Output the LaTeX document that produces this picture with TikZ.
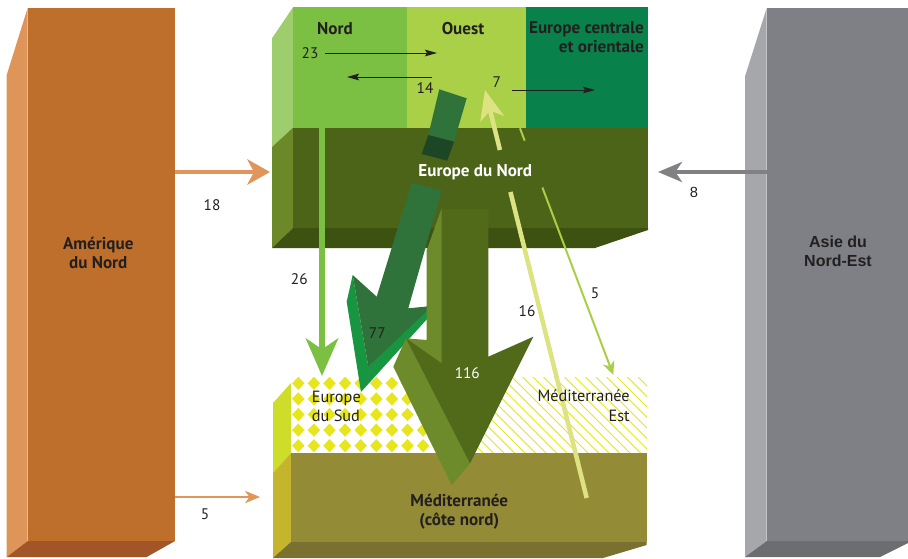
\documentclass[tikz,border=0pt]{standalone}
\usepackage{fontspec}
\setmainfont{PT Sans}
\newfontfamily\helv{Liberation Sans}
\usetikzlibrary{arrows.meta,calc}

\definecolor{ink}{HTML}{231F20}
\definecolor{amer}{HTML}{BF6F2C}
\definecolor{amerside}{HTML}{DE9559}
\definecolor{amerbot}{HTML}{A25627}
\definecolor{asie}{HTML}{7F8085}
\definecolor{asieside}{HTML}{A6A7AB}
\definecolor{asiebot}{HTML}{6C6D71}
\definecolor{nordg}{HTML}{7BBF43}
\definecolor{ouestg}{HTML}{A9D047}
\definecolor{ceog}{HTML}{08814A}
\definecolor{topside}{HTML}{9DCD6C}
\definecolor{eun}{HTML}{4C6418}
\definecolor{eunside}{HTML}{6C892A}
\definecolor{eunbot}{HTML}{3D5211}
\definecolor{med}{HTML}{948B37}
\definecolor{medside}{HTML}{C4B52C}
\definecolor{medbot}{HTML}{7A702F}
\definecolor{sudside}{HTML}{CEDC2A}
\definecolor{diam}{HTML}{E7E51B}
\definecolor{flowA}{HTML}{2F723A}
\definecolor{flowAdk}{HTML}{1D4627}
\definecolor{flowAbr}{HTML}{179540}
\definecolor{flowB}{HTML}{506A1A}
\definecolor{flowBlt}{HTML}{6D8B2B}
\definecolor{pale}{HTML}{DDE283}
\definecolor{lime}{HTML}{AACF47}
\definecolor{orng}{HTML}{E0965A}
\definecolor{gry}{HTML}{808085}

\begin{document}
\begin{tikzpicture}[x=0.75pt,y=-0.75pt,
  lbl/.style={font=\fontsize{12.8}{14.3}\selectfont\bfseries,text=ink,inner sep=0pt,align=center},
  reg/.style={font=\fontsize{12.2}{14.3}\selectfont,text=ink,inner sep=0pt},
  num/.style={font=\fontsize{11.5}{13}\selectfont,text=ink,inner sep=0pt,anchor=base}]
\useasboundingbox (0,0) rectangle (908,558);

% Amerique du Nord
\fill[amerside] (27.7,7.8) -- (6.7,75) -- (6.7,557) -- (27.7,541) -- cycle;
\fill[amer] (27.7,7.8) rectangle (175,541);
\fill[amerbot] (27.7,541) -- (175,541) -- (146.7,557) -- (6.7,557) -- cycle;
\node[lbl] (amerique) at (98.3,253) {Amérique\\du Nord};

% Asie du Nord-Est
\fill[asieside] (766.7,8) -- (745,76.5) -- (745,557) -- (766.7,541) -- cycle;
\fill[asie] (766.7,8) rectangle (908,541);
\fill[asiebot] (766.7,541) -- (908,541) -- (908,543) -- (880,557) -- (745,557) -- cycle;
\node[lbl,font=\fontsize{12}{14}\selectfont\helv\bfseries] (asie) at (838,251.5) {Asie du\\Nord-Est};

% Europe du Nord, top tier
\fill[topside] (293,7.3) -- (272,38.3) -- (272,147) -- (293,127.7) -- cycle;
\fill[nordg] (293,7.3) rectangle (406.7,127.7);
\fill[ouestg] (406.7,7.3) rectangle (526,127.7);
\fill[ceog] (526,7.3) rectangle (648,127.7);
\node[lbl,anchor=base] (nord) at (335,34.3) {Nord};
\node[lbl,anchor=base] (ouest) at (463,34.3) {Ouest};
\node[lbl,align=right,anchor=north east] (ceo) at (644,21) {Europe centrale\\et orientale};

% Europe du Nord, block
\fill[eunside] (293,127.7) -- (272,147) -- (272,248) -- (293,228) -- cycle;
\fill[eun] (293,127.7) rectangle (648,228);
\fill[eunbot] (293,228) -- (648,228) -- (648,230) -- (595,248) -- (272,248) -- cycle;

% Europe du Sud and Mediterranee Est
\fill[sudside] (291,383) -- (273,403) -- (273,473) -- (291,453) -- cycle;
\begin{scope}
  \clip (291,377) rectangle (445,453);
  \foreach \i in {0,...,10}
    \foreach \j in {0,...,5}
      \fill[diam] (298.3+15.6*\i,376.7+15.6*\j) -- ++(6.2,6.6) -- ++(-6.2,6.6) -- ++(-6.2,-6.6) -- cycle;
\end{scope}
\begin{scope}
  \clip (445,377) rectangle (647,453);
  \foreach \k in {0,...,28}
    \draw[diam,line width=0.6pt] (365+10.5*\k,377) -- ++(76,76);
\end{scope}

% Mediterranee (cote nord)
\fill[medside] (291,453) -- (273,473) -- (273,558) -- (291,542) -- cycle;
\fill[med] (291,453) rectangle (646.7,542);
\fill[medbot] (291,542) -- (646.7,542) -- (646.7,545) -- (603,558) -- (273,558) -- cycle;
\node[lbl,anchor=north] (mednord) at (459.3,494) {Méditerranée\\(côte nord)};

% flows between the tiers
\coordinate (s23) at (325,53);   \coordinate (t23) at (437,53);
\coordinate (s14) at (432,77);   \coordinate (t14) at (347,77);
\coordinate (s7) at (512,90);    \coordinate (t7) at (595,90);
\draw[ink,line width=0.75pt,-{Stealth[length=9pt,width=5pt,inset=1.5pt]}] (s23) -- (t23);
\draw[ink,line width=0.75pt,-{Stealth[length=9pt,width=5pt,inset=1.5pt]}] (s14) -- (t14);
\draw[ink,line width=0.75pt,-{Stealth[length=9pt,width=5pt,inset=1.5pt]}] (s7) -- (t7);
\node[num] (n23) at (310,58.3) {23};
\node[num] (n14) at (425,93.3) {14};
\node[num] (n7) at (496.7,87.3) {7};

% from outside
\coordinate (s18) at (175,172);  \coordinate (t18) at (270,172);
\coordinate (s5a) at (175,497);  \coordinate (t5a) at (260,497);
\coordinate (s8) at (766.7,172); \coordinate (t8) at (658,172);
\draw[orng,line width=3.2pt,-{Stealth[length=17pt,width=19pt,inset=5pt]}] (s18) -- (t18);
\draw[orng,line width=2pt,-{Stealth[length=11pt,width=9pt,inset=3pt]}] (s5a) -- (t5a);
\draw[gry,line width=3pt,-{Stealth[length=18pt,width=15pt,inset=5pt]}] (s8) -- (t8);
\node[num] (n18) at (212,210) {18};
\node[num] (n5a) at (205,519.6) {5};
\node[num,font=\fontsize{11}{13}\selectfont\helv] (n8) at (694,197.5) {8};

% 26
\coordinate (s26) at (322,128);  \coordinate (t26) at (322,376);
\draw[nordg,line width=5.2pt,-{Stealth[length=28pt,width=24pt,inset=8pt]}] (s26) -- (t26);
\node[num] (n26) at (299.3,284.3) {26};

% 77
\fill[flowA] (439.3,89.3) -- (466.7,98.3) -- (454,141.7) -- (428.3,135) -- cycle;
\fill[flowAdk] (428.3,135) -- (454,141.7) -- (447.3,160.7) -- (421.7,154) -- cycle;
\fill[flowAbr] (352.7,275) -- (346.7,301.7) -- (361,392) -- (428,318) -- (428,305) -- (368.3,366.7) -- cycle;
\fill[flowA] (411.7,182.7) -- (441.7,190.7) -- (408.3,308.3) -- (432,306) -- (368.3,366.7)
  -- (352.7,275) -- (376.7,296.7) -- cycle;
\node[num] (n77) at (377.3,338.3) {77};

% 116
\fill[flowBlt] (441.7,208.3) -- (426.7,250) -- (426.7,340) -- (406,338.3) -- (393.3,366.7)
  -- (451.7,485) -- (470,463.3) -- cycle;
\fill[flowB] (441.7,209) -- (488.3,209) -- (488.3,356.7) -- (533.3,336.7) -- (470,463.3)
  -- (406,338.3) -- (441.7,363.3) -- cycle;
\node[num,text=white] (n116) at (467.3,378.3) {116};

% 16 and 5
\coordinate (s16) at (586.7,498); \coordinate (t16) at (485,90);
\draw[pale,line width=3.4pt] (s16) -- ($(t16)!0.25!(s16)$);
\draw[pale,line width=3.4pt,-{Stealth[length=22pt,width=18pt,inset=6pt]}] ($(t16)!0.147!(s16)$) -- (t16);
\node[num] (n16) at (527,316.7) {16};
\coordinate (s5b) at (520,128.3); \coordinate (t5b) at (613.3,375);
\draw[lime,line width=1.5pt] (s5b) -- ($(s5b)!0.05!(t5b)$);
\draw[lime,line width=1.5pt,-{Stealth[length=10pt,width=9pt,inset=3pt]}] ($(s5b)!0.24!(t5b)$) -- (t5b);
\node[num] (n5b) at (595,298.3) {5};

\node[lbl,text=white,anchor=base] (eunord) at (475.3,176.7) {Europe du Nord};
\node[reg,align=left,anchor=north west] (eusud) at (311.7,391) {Europe\\du Sud};
\node[reg,align=right,anchor=north east] (medest) at (630,390) {Méditerranée\\Est};
\end{tikzpicture}
\end{document}
